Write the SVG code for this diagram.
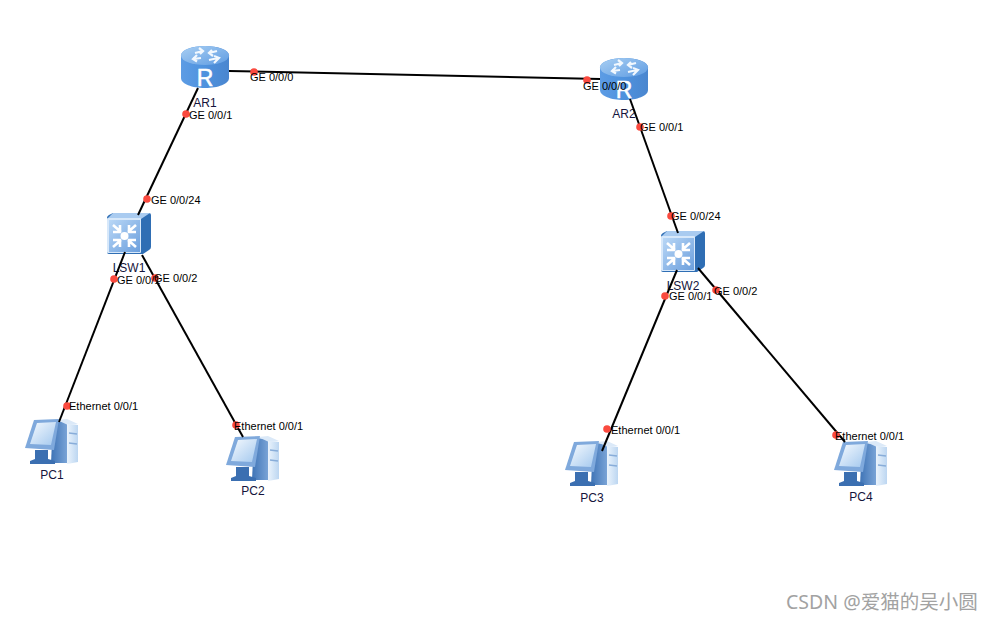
<svg xmlns="http://www.w3.org/2000/svg" width="993" height="621" viewBox="0 0 993 621">
<style>
.bg{fill:#fff}
.lnk{stroke:#000;stroke-width:2;fill:none}
.dot{fill:#fa4a3f}
text{font-family:"Liberation Sans",Arial,sans-serif}
.lb{font-size:11px;fill:#000}
.nm{font-size:12px;fill:#14143c;text-anchor:middle}
.wm{font-family:"Noto Sans","Noto Sans CJK SC",sans-serif;font-size:19.500px;fill:#a2a2a2}
.rl{font-size:23px;fill:#fff;text-anchor:middle;stroke:#fff;stroke-width:.5}
.arr{stroke:#fff;stroke-width:2.600;fill:none}
.rar{stroke:#f2f8fe;stroke-width:2.200;fill:none}
</style>
<defs>
<linearGradient id="rb" x1="0" x2="1" y1="0" y2="0"><stop offset="0" stop-color="#5d9ce4"/><stop offset=".45" stop-color="#4f93df"/><stop offset="1" stop-color="#4a86cf"/></linearGradient>
<linearGradient id="rt" x1="0" x2="1" y1="0" y2="1"><stop offset="0" stop-color="#a9cff3"/><stop offset="1" stop-color="#5f9ce2"/></linearGradient>
<linearGradient id="sf" x1="0" x2="1" y1="0" y2="1"><stop offset="0" stop-color="#b9d7f6"/><stop offset="1" stop-color="#6b9fdd"/></linearGradient>
<linearGradient id="pct" x1="0" x2="1" y1="0" y2="0"><stop offset="0" stop-color="#eaf3fc"/><stop offset="1" stop-color="#bcd6f1"/></linearGradient>
<linearGradient id="pcr" x1="0" x2="1" y1="0" y2="1"><stop offset="0" stop-color="#f6fafe"/><stop offset="1" stop-color="#a3c8ee"/></linearGradient>
<linearGradient id="pcd" x1="0" x2="1" y1="0" y2="0"><stop offset="0" stop-color="#3f74b6"/><stop offset="1" stop-color="#79a3d6"/></linearGradient>
<g id="router">
<path d="M0 9.500C0 4 10.700 0 24 0S48 4 48 9.500V32C48 38 37 42 24 42S0 38 0 32Z" fill="url(#rb)"/>
<ellipse cx="24" cy="9.500" rx="24" ry="9.500" fill="url(#rt)"/>
<path class="rar" d="M14 7l8-2M18 2l4 3-3 3M36 5l-8 2M32 10l-4-3 3-3M12 13l8-1M16 9l-4 4 4 2.500M37 12l-9 2M33 17l5-5-5-2"/>
<text class="rl" x="24" y="40">R</text>
</g>
<g id="switch">
<path d="M0 5Q0 3 2 2L6 0H42Q44 0 44 2V34Q44 36 42 37L36 41H2Q0 41 0 39Z" fill="#2f6eb4"/>
<path d="M1 5L6 0H43L34 6Z" fill="#a9cbf0"/>
<rect x="0" y="5" width="34" height="35" rx="1" fill="#d7e8fa"/>
<rect x="2" y="7" width="31" height="32" fill="url(#sf)"/>
<circle cx="17.500" cy="23" r="4" fill="#fff"/>
<path d="M6 12l8 7M13 12v7H6M29 12l-8 7M22 12v7h7M6 34l8-7M13 34v-7H6M29 34l-8-7M22 34v-7h7" class="arr"/>
</g>
<g id="pc">
<path d="M28 4L42 5V46L26 46Z" fill="url(#pcd)"/>
<path d="M32 3L42 2L53 7L43 8Z" fill="#dbe9f8"/>
<path d="M42 7L53 8V45L42 47Z" fill="url(#pct)"/>
<path d="M44 16L52 17M44 26L52 27" stroke="#88add9" stroke-width="1.300"/>
<path d="M10 33H23V42L30 44V47H5V44L10 42Z" fill="#3b6fb1"/>
<path d="M9 3L34 2L29 33L0 31Z" fill="#7fa9dc"/>
<path d="M12 6L31 5L26 28L5 27Z" fill="url(#pcr)"/>
</g>
</defs>
<rect class="bg" width="993" height="621"/>
<g id="AR1"><use href="#router" x="181" y="46"/><text class="nm" x="205" y="107">AR1</text></g>
<g id="AR2"><use href="#router" x="600" y="58"/><text class="nm" x="624" y="118">AR2</text></g>
<g id="LSW1"><use href="#switch" x="107" y="213"/><text class="nm" x="129" y="272">LSW1</text></g>
<g id="LSW2"><use href="#switch" x="661" y="231"/><text class="nm" x="683" y="290">LSW2</text></g>
<g id="PC1"><use href="#pc" x="25" y="417"/><text class="nm" x="52" y="479">PC1</text></g>
<g id="PC2"><use href="#pc" x="226" y="434"/><text class="nm" x="253" y="495">PC2</text></g>
<g id="PC3"><use href="#pc" x="565" y="439"/><text class="nm" x="592" y="502">PC3</text></g>
<g id="PC4"><use href="#pc" x="834" y="439"/><text class="nm" x="861" y="501">PC4</text></g>
<g id="connectors">
<path class="lnk" d="M229 71L600 79"/>
<path class="lnk" d="M198 88L138 215"/>
<path class="lnk" d="M125 252L59 422"/>
<path class="lnk" d="M142 255L243 437"/>
<path class="lnk" d="M630 99L678 233"/>
<path class="lnk" d="M677 270L602 451"/>
<path class="lnk" d="M698 268L845 442"/>
</g>
<g id="ports">
<circle class="dot" cx="254" cy="72" r="3.800"/><circle class="dot" cx="587" cy="80" r="3.800"/>
<circle class="dot" cx="186" cy="114" r="3.800"/><circle class="dot" cx="147" cy="199" r="3.800"/>
<circle class="dot" cx="114" cy="279" r="3.800"/><circle class="dot" cx="155" cy="278" r="3.800"/>
<circle class="dot" cx="67" cy="406" r="3.800"/><circle class="dot" cx="236" cy="425" r="3.800"/>
<circle class="dot" cx="640" cy="127" r="3.800"/><circle class="dot" cx="671" cy="216" r="3.800"/>
<circle class="dot" cx="665" cy="296" r="3.800"/><circle class="dot" cx="716" cy="290" r="3.800"/>
<circle class="dot" cx="607" cy="429" r="3.800"/><circle class="dot" cx="836" cy="435" r="3.800"/>
</g>
<g id="labels">
<text class="lb" x="250" y="81">GE 0/0/0</text>
<text class="lb" x="583" y="90">GE 0/0/0</text>
<text class="lb" x="189" y="119">GE 0/0/1</text>
<text class="lb" x="151" y="204">GE 0/0/24</text>
<text class="lb" x="117" y="284">GE 0/0/1</text>
<text class="lb" x="154" y="282">GE 0/0/2</text>
<text class="lb" x="69" y="410">Ethernet 0/0/1</text>
<text class="lb" x="234" y="430">Ethernet 0/0/1</text>
<text class="lb" x="640" y="131">GE 0/0/1</text>
<text class="lb" x="671" y="220">GE 0/0/24</text>
<text class="lb" x="669" y="300">GE 0/0/1</text>
<text class="lb" x="714" y="295">GE 0/0/2</text>
<text class="lb" x="611" y="434">Ethernet 0/0/1</text>
<text class="lb" x="835" y="440">Ethernet 0/0/1</text>
</g>
<text class="wm" x="786" y="609">CSDN @爱猫的吴小圆</text>
</svg>
